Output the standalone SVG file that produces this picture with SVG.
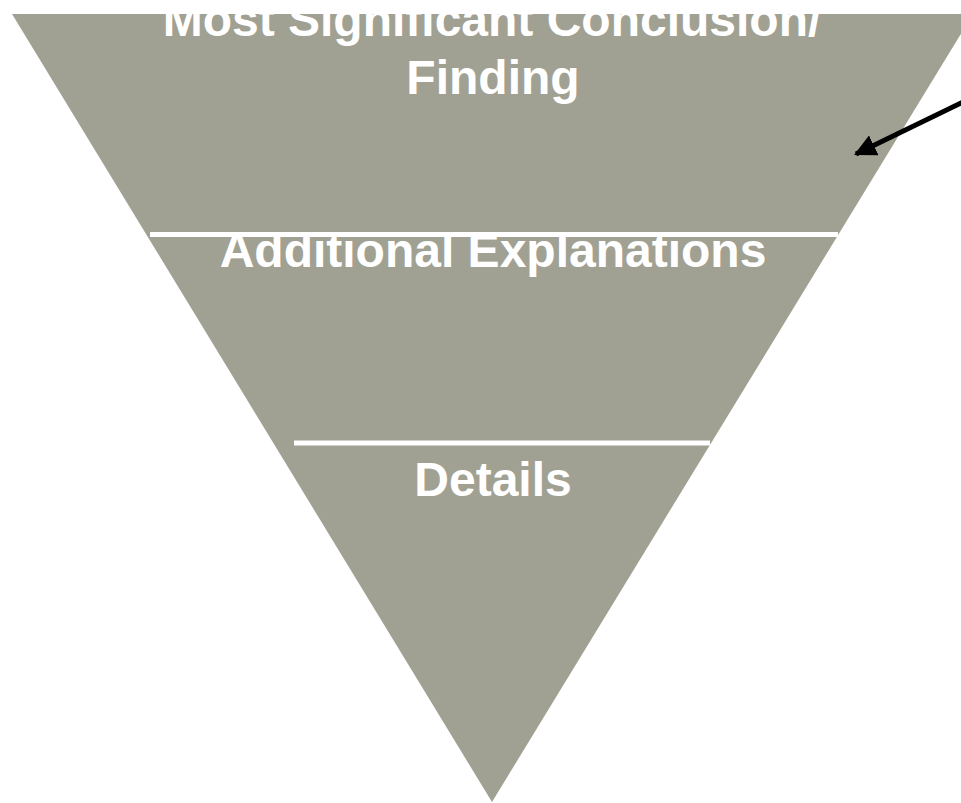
<svg xmlns="http://www.w3.org/2000/svg" width="961" height="803" viewBox="0 0 961 803">
<defs>
<style>
.lbl{font-family:"Liberation Sans",Arial,sans-serif;font-weight:bold;font-size:48px;fill:#ffffff;text-anchor:middle}
.sep{stroke:#ffffff;stroke-width:5}
</style>
<marker id="ah" viewBox="0 0 10 10" refX="9" refY="5" markerWidth="4.4" markerHeight="4.4" orient="auto" markerUnits="strokeWidth">
<path d="M0,0 L10,5 L0,10 z" fill="#000"/>
</marker>
</defs>
<rect width="961" height="803" fill="#ffffff"/>
<g id="pyramid">
<polygon points="12,14 973,14 492,802" fill="#A1A193"/>
</g>
<g id="node-top">
<text class="lbl" x="492" y="36">Most Significant Conclusion/</text>
<text class="lbl" x="493" y="94">Finding</text>
</g>
<rect x="0" y="0" width="961" height="14" fill="#ffffff"/>
<g id="node-middle">
<line class="sep" x1="150" y1="234.5" x2="838" y2="234.5"/>
<text class="lbl" x="493" y="267">Additional Explanations</text>
</g>
<g id="node-bottom">
<line class="sep" x1="294" y1="443" x2="710" y2="443"/>
<text class="lbl" x="493" y="496">Details</text>
</g>
<g id="connectors">
<line x1="963" y1="102" x2="856" y2="154" stroke="#000" stroke-width="5" marker-end="url(#ah)"/>
</g>
</svg>
